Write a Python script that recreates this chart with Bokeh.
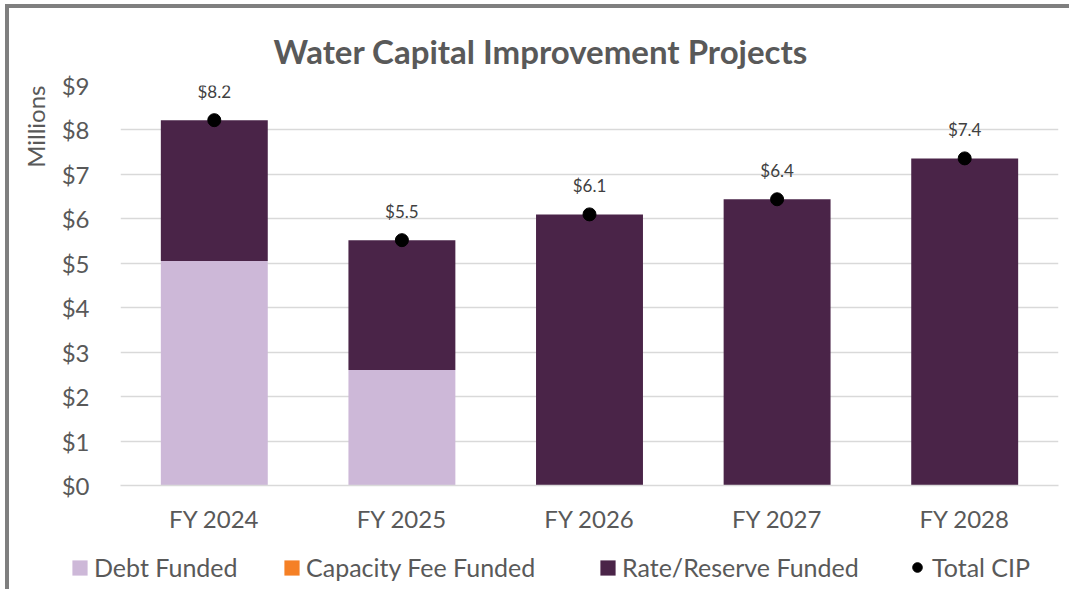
from bokeh.plotting import figure
from bokeh.layouts import column
from bokeh.models import (ColumnDataSource, Legend, LegendItem, LabelSet, Title,
                          FixedTicker, PrintfTickFormatter, Range1d, FactorRange)
from bokeh.core.properties import value
from bokeh.embed import file_html
from bokeh.resources import INLINE

years = ["FY 2024", "FY 2025", "FY 2026", "FY 2027", "FY 2028"]
debt_funded = [5.05, 2.60, 0.0, 0.0, 0.0]
capacity_fee_funded = [0.0, 0.0, 0.0, 0.0, 0.0]
rate_reserve_funded = [3.17, 2.92, 6.10, 6.44, 7.36]
total_cip = [8.22, 5.52, 6.10, 6.44, 7.36]
y_ticks = [0, 1, 2, 3, 4, 5, 6, 7, 8, 9]
series_names = ["Debt Funded", "Capacity Fee Funded", "Rate/Reserve Funded"]
series_colors = ["#CDB8D8", "#F58025", "#4A2448"]

FONT = "Lato"
GRAY = "#595959"

src = ColumnDataSource(dict(
    years=years,
    debt=debt_funded,
    capacity=capacity_fee_funded,
    rate=rate_reserve_funded,
    total=total_cip,
    label=["$%.1f" % t for t in total_cip],
))

# ---------------- main chart ----------------
p = figure(x_range=FactorRange(*years), y_range=Range1d(0, 9),
           width=1060, height=536, output_backend="svg", toolbar_location=None,
           min_border_left=109, min_border_right=11, min_border_top=77,
           min_border_bottom=59)

p.title.text = "Water Capital Improvement Projects"
p.title.text_font = FONT
p.title.text_font_size = "33px"
p.title.text_font_style = "bold"
p.title.text_color = GRAY
p.title.align = "left"
p.title.offset = 153
p.title.standoff = 30

ytitle = Title(text="Millions", align="right", text_font=FONT,
               text_font_size="24px", text_font_style="normal",
               text_color=GRAY, standoff=18)
p.add_layout(ytitle, "left")

rs = p.vbar_stack(["debt", "capacity", "rate"], x="years", width=0.57,
                  color=series_colors, line_color=None, source=src)
dots = p.scatter("years", "total", size=13, color="black", source=src)

labels = LabelSet(x="years", y="total", text="label", source=src,
                  text_align="center", text_baseline="bottom", y_offset=18,
                  text_font=value(FONT), text_font_size=value("17px"),
                  text_color="#404040")
p.add_layout(labels)

p.outline_line_color = None
p.background_fill_color = "white"
p.border_fill_color = "white"
p.xgrid.grid_line_color = None
p.ygrid.grid_line_color = "#D9D9D9"
p.ygrid.grid_line_width = 1.5
p.yaxis.ticker = FixedTicker(ticks=y_ticks)
p.yaxis.formatter = PrintfTickFormatter(format="$%d")
p.yaxis.axis_line_color = None
p.yaxis.major_tick_line_color = None
p.yaxis.minor_tick_line_color = None
p.yaxis.major_label_standoff = 25
p.xaxis.axis_line_color = "#D9D9D9"
p.xaxis.axis_line_width = 1.5
p.xaxis.major_tick_line_color = None
p.xaxis.minor_tick_line_color = None
p.xaxis.major_label_standoff = 12
for ax in (p.xaxis[0], p.yaxis[0]):
    ax.major_label_text_font = FONT
    ax.major_label_text_font_size = "24px"
    ax.major_label_text_color = GRAY

# ---------------- legend strip ----------------
# Same series drawn into a strip whose y range lies far above the data, so
# only the legend entries are visible there.
q = figure(x_range=FactorRange(*years), y_range=Range1d(100, 101),
           width=1060, height=45, output_backend="svg", toolbar_location=None,
           min_border=0, x_axis_location=None, y_axis_location=None)
if "frame_align" in q.properties():
    q.frame_align = False
q.outline_line_color = None
q.grid.grid_line_color = None
q.border_fill_color = "white"
q.background_fill_color = "white"

leg_bars = q.vbar_stack(["debt", "capacity", "rate"], x="years", width=0.57,
                        color=series_colors, line_color=None, source=src)
leg_dot = q.scatter("years", "total", size=13, color="black", source=src)

legend_x = [61, 273, 589]
legends = []
for n, r, lx in zip(series_names, leg_bars, legend_x):
    lg = Legend(items=[LegendItem(label=n, renderers=[r])],
                orientation="horizontal", location=(lx, 7))
    lg.glyph_width = 19
    lg.glyph_height = 19
    lg.label_standoff = 5
    legends.append(lg)

lg_total = Legend(items=[LegendItem(label="Total CIP", renderers=[leg_dot])],
                  orientation="horizontal", location=(896, 7))
lg_total.glyph_width = 24
lg_total.glyph_height = 24
lg_total.label_standoff = 3
legends.append(lg_total)

for lg in legends:
    lg.label_text_font = FONT
    lg.label_text_font_size = "25px"
    lg.label_text_color = GRAY
    lg.label_height = 24
    lg.padding = 4
    lg.margin = 0
    lg.border_line_color = None
    lg.background_fill_alpha = 0
    q.add_layout(lg, "center")

layout = column(p, q, spacing=0)
layout.styles = {"border-left": "4px solid #7F7F7F",
                 "border-top": "4px solid #7F7F7F",
                 "margin-left": "5px", "margin-top": "4px"}

open("out.html", "w").write(file_html(layout, INLINE))
